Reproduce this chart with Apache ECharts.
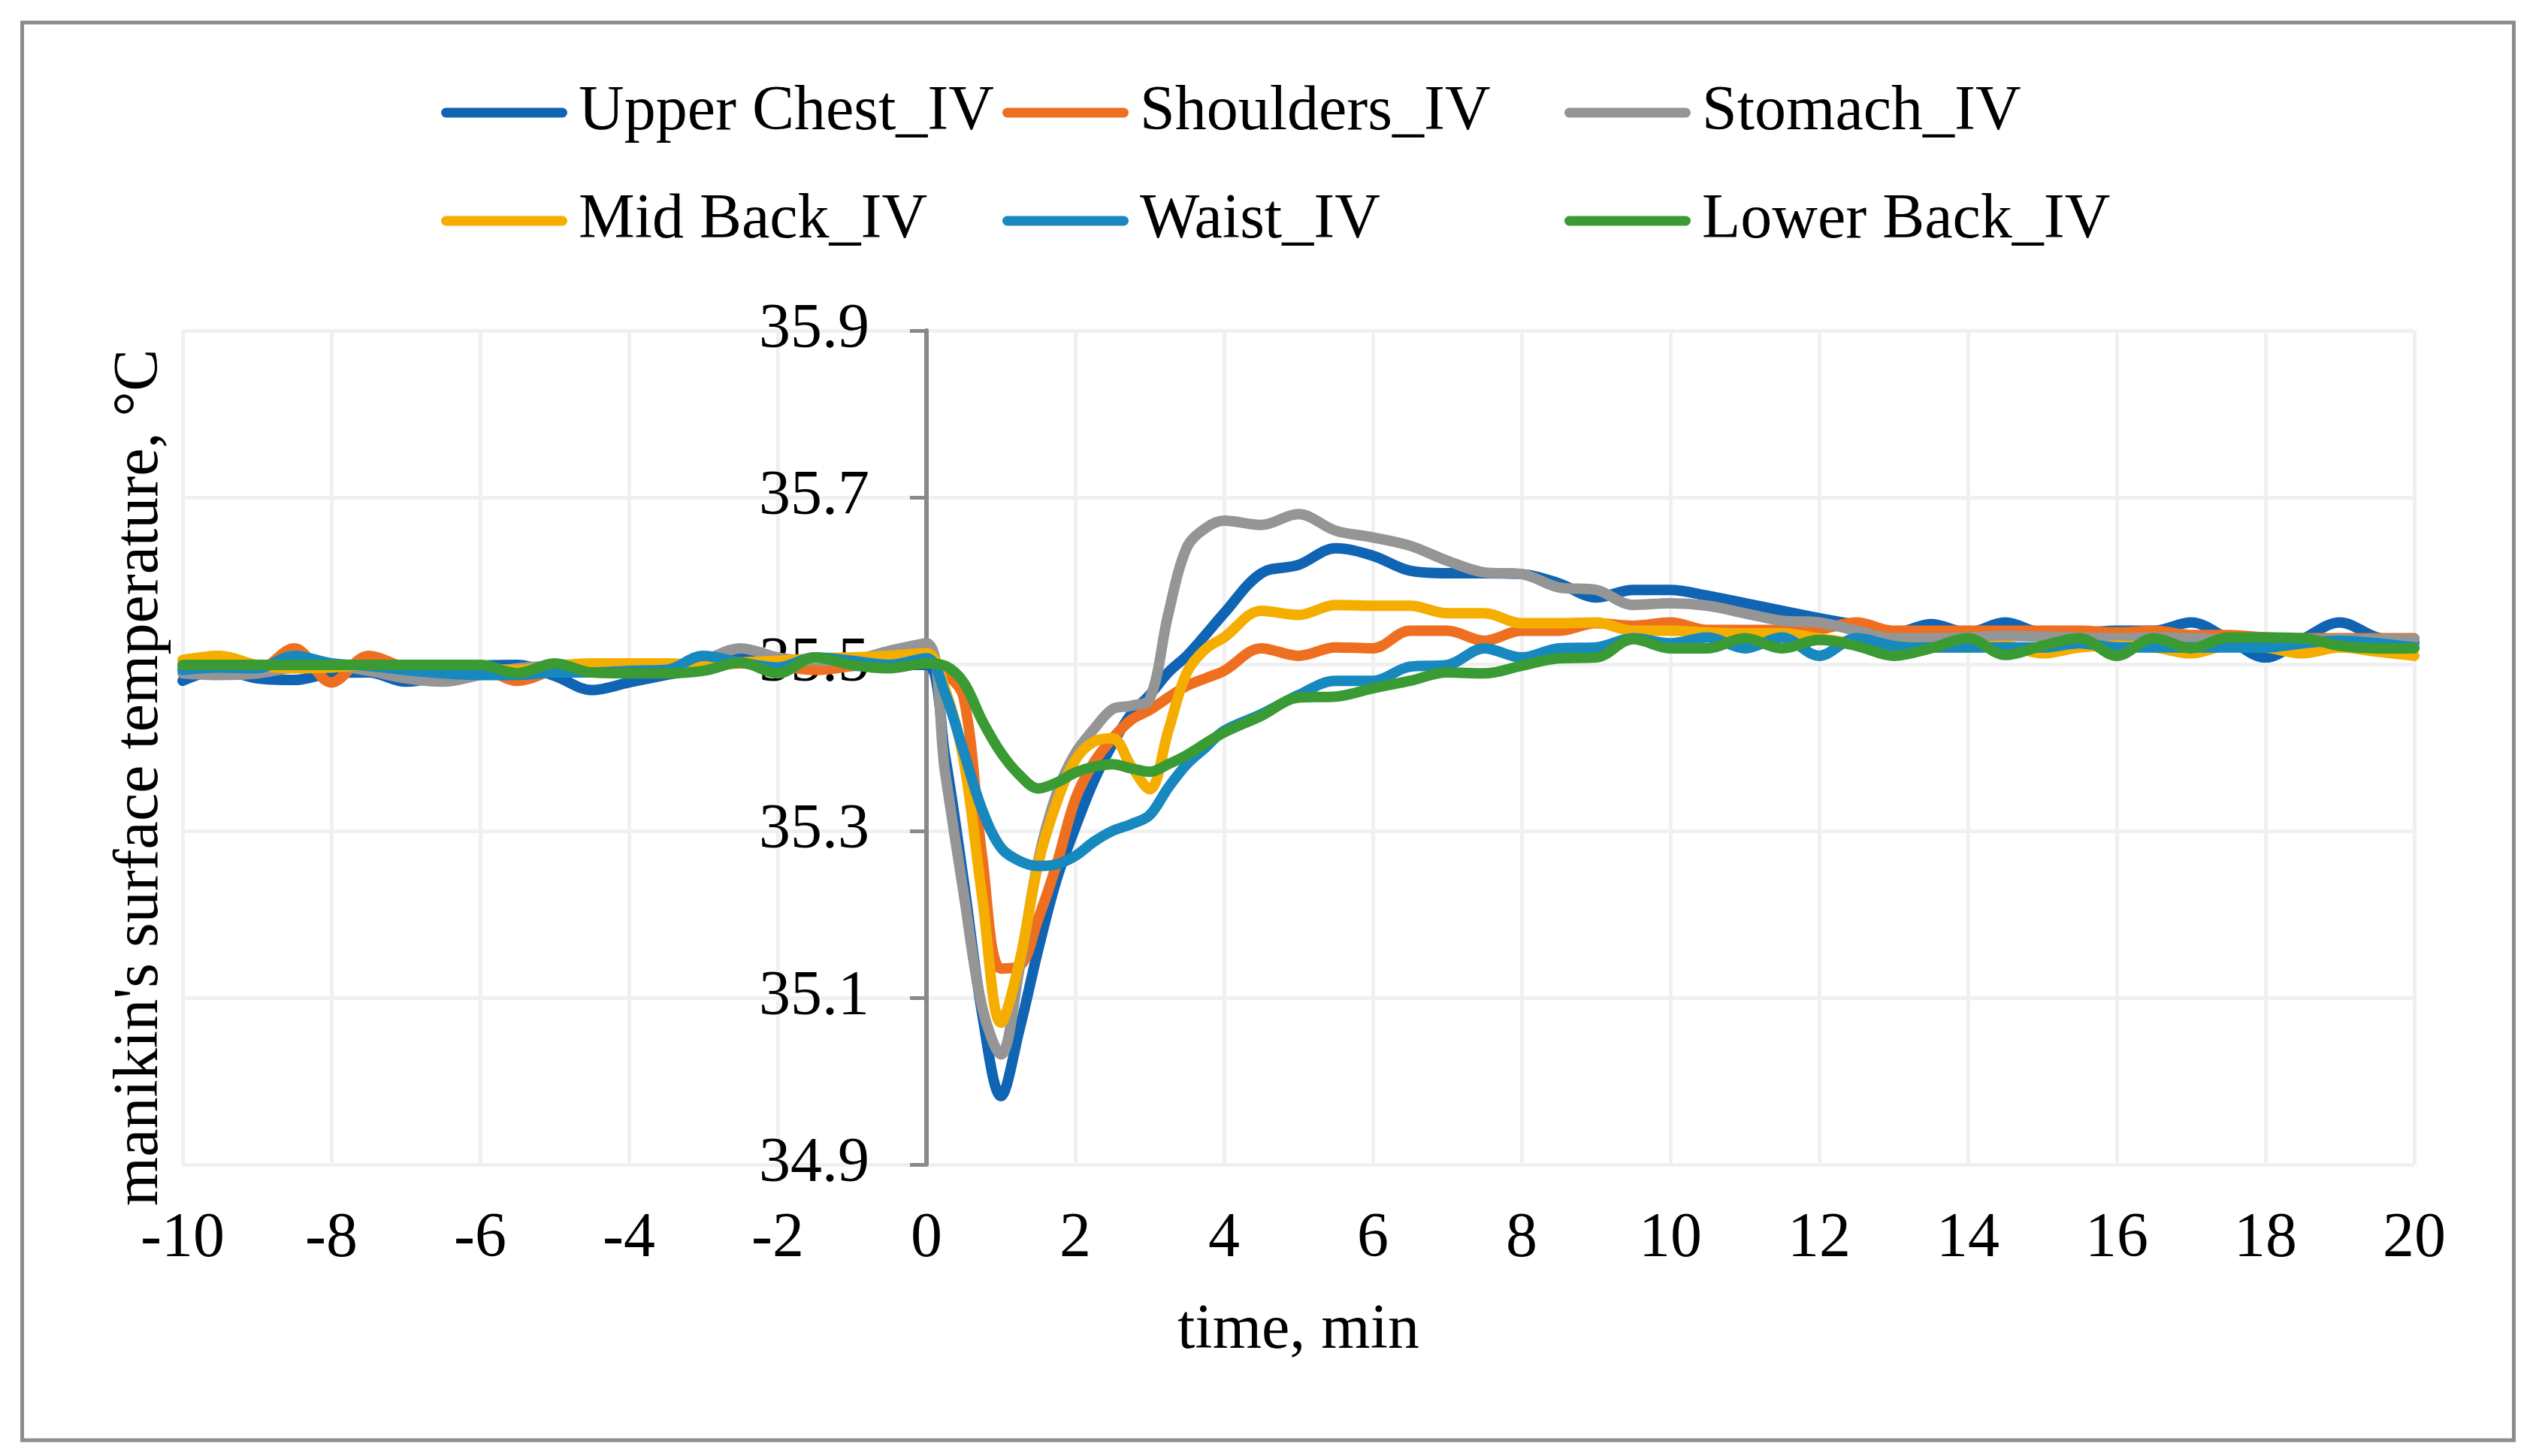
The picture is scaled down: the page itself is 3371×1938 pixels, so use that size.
<!DOCTYPE html>
<html>
<head>
<meta charset="utf-8">
<script src="https://cdn.jsdelivr.net/npm/echarts@6/dist/echarts.min.js"></script>
<style>
html,body{margin:0;padding:0;background:#fff;}
#c{width:3371px;height:1938px;}
</style>
</head>
<body>
<div id="c"></div>
<script>
// time axis (min)
const times = [-10,-9.5,-9,-8.5,-8,-7.5,-7,-6.5,-6,-5.5,-5,-4.5,-4,-3.5,-3,-2.5,-2,-1.5,-1,-0.5,0,
  0.25,0.5,0.75,1,1.25,1.5,1.75,2,2.25,2.5,2.75,3,3.25,3.5,3.75,4,
  4.5,5,5.5,6,6.5,7,7.5,8,8.5,9,9.5,10,10.5,11,11.5,12,12.5,13,13.5,14,14.5,15,15.5,16,16.5,17,17.5,18,18.5,19,19.5,20];

const seriesNames = ['Upper Chest_IV','Shoulders_IV','Stomach_IV','Mid Back_IV','Waist_IV','Lower Back_IV'];
const seriesColors = ['#1064B4','#EE6F20','#959595','#F5AE00','#1789BF','#3A9B34'];

const upperChest = [35.480,35.493,35.483,35.481,35.489,35.490,35.479,35.486,35.498,35.499,35.486,35.469,35.478,35.487,35.495,35.508,35.501,35.499,35.498,35.499,35.499,
  35.390,35.240,35.080,34.982,35.062,35.157,35.242,35.304,35.360,35.404,35.440,35.463,35.490,35.510,35.535,35.561,
  35.609,35.619,35.639,35.630,35.612,35.609,35.609,35.608,35.597,35.580,35.589,35.589,35.582,35.573,35.564,35.555,35.547,35.537,35.548,35.538,35.550,35.538,35.538,35.540,35.540,35.550,35.530,35.508,35.530,35.550,35.532,35.526];

const shoulders = [35.498,35.498,35.493,35.519,35.478,35.510,35.496,35.493,35.495,35.480,35.493,35.499,35.499,35.499,35.498,35.501,35.498,35.493,35.498,35.507,35.505,
  35.490,35.460,35.268,35.135,35.138,35.194,35.260,35.338,35.382,35.411,35.433,35.445,35.460,35.474,35.483,35.492,
  35.519,35.510,35.520,35.519,35.540,35.540,35.528,35.540,35.540,35.549,35.546,35.550,35.541,35.541,35.541,35.542,35.550,35.540,35.540,35.540,35.540,35.540,35.540,35.538,35.540,35.535,35.535,35.532,35.531,35.531,35.531,35.531];

const stomach = [35.489,35.487,35.489,35.496,35.498,35.492,35.483,35.479,35.487,35.495,35.498,35.499,35.501,35.498,35.505,35.519,35.508,35.504,35.505,35.516,35.525,
  35.370,35.225,35.088,35.032,35.135,35.264,35.345,35.393,35.422,35.446,35.450,35.458,35.560,35.640,35.663,35.672,
  35.667,35.680,35.660,35.652,35.642,35.624,35.610,35.608,35.592,35.589,35.571,35.573,35.570,35.561,35.552,35.550,35.540,35.531,35.531,35.532,35.534,35.533,35.532,35.531,35.532,35.531,35.530,35.530,35.530,35.530,35.530,35.530];

const midBack = [35.505,35.510,35.499,35.495,35.496,35.499,35.495,35.492,35.495,35.493,35.498,35.501,35.501,35.501,35.499,35.502,35.504,35.507,35.508,35.510,35.513,
  35.470,35.385,35.220,35.070,35.143,35.260,35.334,35.385,35.407,35.411,35.378,35.350,35.420,35.490,35.518,35.532,
  35.564,35.559,35.571,35.570,35.570,35.561,35.561,35.549,35.549,35.550,35.540,35.540,35.538,35.537,35.537,35.531,35.525,35.522,35.520,35.520,35.522,35.513,35.520,35.522,35.520,35.513,35.522,35.520,35.513,35.520,35.515,35.510];

const waist = [35.493,35.496,35.495,35.510,35.501,35.498,35.493,35.489,35.487,35.487,35.490,35.490,35.492,35.493,35.510,35.502,35.496,35.508,35.504,35.499,35.507,
  35.465,35.395,35.325,35.280,35.264,35.258,35.260,35.270,35.287,35.300,35.308,35.319,35.352,35.380,35.400,35.420,
  35.440,35.463,35.480,35.480,35.497,35.499,35.519,35.508,35.519,35.520,35.531,35.525,35.532,35.519,35.532,35.510,35.531,35.522,35.520,35.520,35.520,35.520,35.525,35.520,35.520,35.520,35.520,35.520,35.525,35.528,35.525,35.520];

const lowerBack = [35.499,35.499,35.499,35.499,35.499,35.499,35.499,35.499,35.499,35.489,35.501,35.490,35.489,35.489,35.492,35.502,35.489,35.508,35.499,35.495,35.501,
  35.498,35.478,35.432,35.394,35.367,35.351,35.358,35.370,35.377,35.380,35.375,35.371,35.380,35.391,35.405,35.418,
  35.438,35.460,35.461,35.471,35.480,35.490,35.489,35.498,35.507,35.508,35.530,35.519,35.519,35.531,35.519,35.529,35.522,35.510,35.519,35.531,35.511,35.522,35.531,35.510,35.531,35.519,35.532,35.532,35.531,35.522,35.519,35.519];

const allValues = [upperChest, shoulders, stomach, midBack, waist, lowerBack];

const FONT = '"Liberation Serif", "Times New Roman", serif';
const chart = echarts.init(document.getElementById('c'));

const legendIcon = 'path://M6.5,0 L161.5,0 A6.5,6.5 0 0 1 161.5,13 L6.5,13 A6.5,6.5 0 0 1 6.5,0 Z';
function makeLegend(names, left) {
  return {
    data: names, left: left, top: 108, orient: 'vertical', padding: 0,
    itemGap: 60, itemWidth: 168, itemHeight: 13, icon: legendIcon,
    selectedMode: false,
    textStyle: { fontFamily: FONT, fontSize: 84, color: '#000', padding: [0,0,0,10] }
  };
}

const option = {
  backgroundColor: '#fff',
  animation: false,
  legend: [
    makeLegend(['Upper Chest_IV','Mid Back_IV'], 587),
    makeLegend(['Shoulders_IV','Waist_IV'], 1334),
    makeLegend(['Stomach_IV','Lower Back_IV'], 2082)
  ],
  grid: { left: 243, right: 158, top: 440, bottom: 388, containLabel: false },
  xAxis: {
    type: 'value', min: -10, max: 20, interval: 2,
    axisLine: { show: false }, axisTick: { show: false },
    splitLine: { show: true, lineStyle: { color: '#F0F0F0', width: 5 } },
    axisLabel: { fontFamily: FONT, fontSize: 84, color: '#000', margin: 58 },
    name: 'time, min', nameLocation: 'middle', nameGap: 180,
    nameTextStyle: { fontFamily: FONT, fontSize: 84, color: '#000' }
  },
  yAxis: {
    type: 'value', min: 34.9, max: 35.9, interval: 0.2,
    axisLine: { show: true, onZero: true, lineStyle: { color: '#898989', width: 6 } },
    axisTick: { show: true, length: 22, lineStyle: { color: '#898989', width: 5 } },
    splitLine: { show: true, lineStyle: { color: '#F0F0F0', width: 5 } },
    axisLabel: { fontFamily: FONT, fontSize: 84, color: '#000', margin: -914,
      formatter: v => v.toFixed(1) }
  },
  graphic: [
    { type: 'rect', shape: { x: 29.5, y: 30, width: 3316, height: 1887 },
      style: { fill: 'none', stroke: '#8C8C8C', lineWidth: 5 }, silent: true },
    { type: 'text', x: 187, y: 1035, rotation: Math.PI / 2, silent: true,
      style: { text: "manikin's surface temperature, °C", fill: '#000',
        font: '84px "Liberation Serif"', align: 'center', verticalAlign: 'middle' } }
  ],
  series: seriesNames.map((name, k) => ({
    name: name, type: 'line', smooth: 0.35, symbol: 'none', showSymbol: false,
    color: seriesColors[k],
    lineStyle: { width: 14, color: seriesColors[k], cap: 'round', join: 'round' },
    itemStyle: { color: seriesColors[k] },
    data: times.map((t, i) => [t, allValues[k][i]])
  }))
};
chart.setOption(option);
</script>
</body>
</html>
